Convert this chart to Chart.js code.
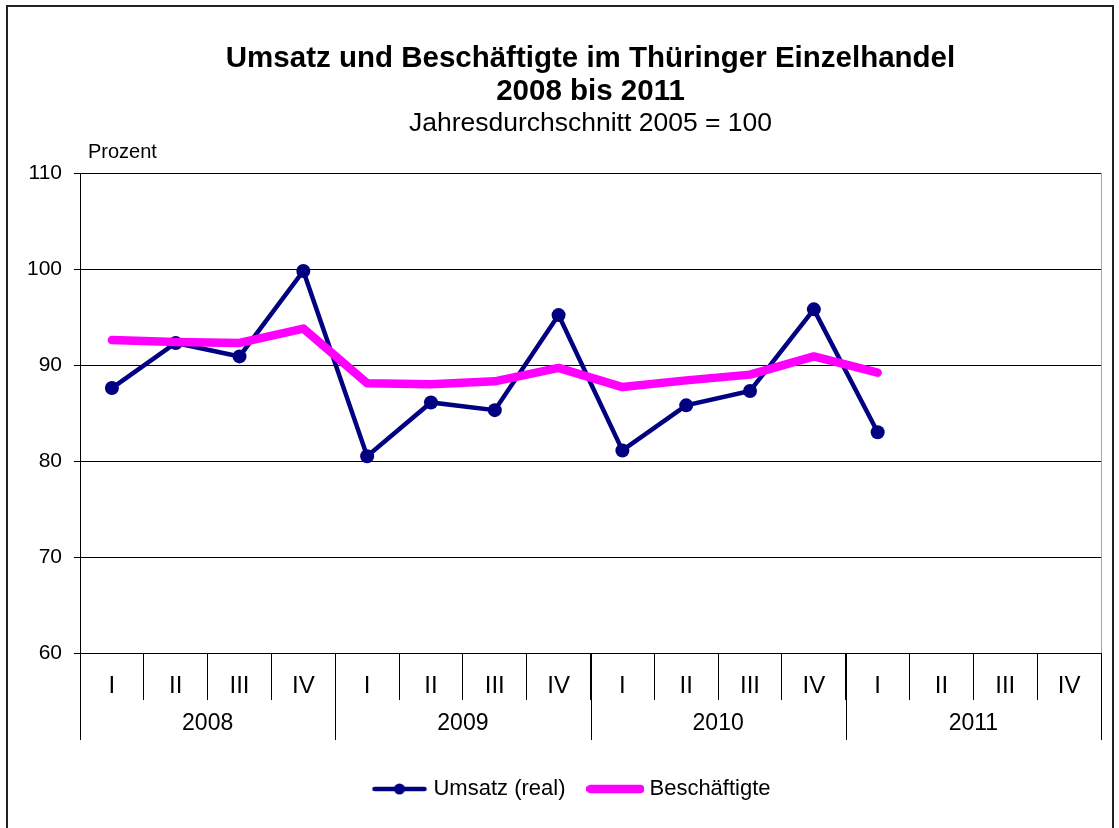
<!DOCTYPE html>
<html>
<head>
<meta charset="utf-8">
<script src="https://cdn.jsdelivr.net/npm/chart.js@4.4.0/dist/chart.umd.min.js"></script>
<style>
  html, body { margin: 0; padding: 0; background: #fff; overflow: hidden; }
  #frame { position: absolute; left: 6px; top: 5px; width: 1108px; height: 840px; border: 2px solid #222; box-sizing: border-box; }
  #wrap { position: absolute; left: 0; top: 0; width: 1119px; height: 828px; }
</style>
</head>
<body>
<div id="frame"></div>
<div id="wrap"><canvas id="chart" width="1119" height="828"></canvas></div>
<script>
// chart data (quarters 2008 - 2011, index 2005 = 100)
const years = ['2008', '2009', '2010', '2011'];
const quarters = ['I', 'II', 'III', 'IV'];
const umsatz = [87.6, 92.3, 90.9, 99.8, 80.5, 86.1, 85.3, 95.2, 81.1, 85.8, 87.3, 95.8, 83.0, null, null, null];
const beschaeftigte = [92.6, 92.4, 92.3, 93.8, 88.1, 88.0, 88.3, 89.7, 87.7, 88.4, 89.0, 90.9, 89.2, null, null, null];
const yMin = 60;
const yMax = 110;
const yStep = 10;

const FONT = 'Arial, "Liberation Sans", sans-serif';
const labels = years.flatMap(y => quarters.map(q => q + ' ' + y));

// small canvas used as legend symbol
function legendSymbol(color, width, dot) {
  const c = document.createElement('canvas');
  c.width = 58; c.height = 16;
  const g = c.getContext('2d');
  g.strokeStyle = color; g.lineWidth = width; g.lineCap = 'round';
  g.beginPath(); g.moveTo(4, 8); g.lineTo(54, 8); g.stroke();
  if (dot) {
    g.fillStyle = color;
    g.beginPath(); g.arc(29, 8, 5.5, 0, Math.PI * 2); g.fill();
  }
  return c;
}

// "Prozent", year row, separators and right plot border
const extras = {
  id: 'extras',
  afterLayout(chart) {
    // legend sits a bit right of the page centre in the original
    chart.legend.left += 46;
  },
  afterDraw(chart) {
    const { ctx, chartArea: a, scales: { x } } = chart;
    ctx.save();
    ctx.strokeStyle = '#a6a6a6';
    ctx.lineWidth = 1;
    ctx.beginPath();
    ctx.moveTo(Math.round(a.right) + 0.5, a.top);
    ctx.lineTo(Math.round(a.right) + 0.5, a.bottom);
    ctx.stroke();

    ctx.strokeStyle = '#000';
    for (let i = 0; i <= years.length; i++) {
      const px = Math.round(x.getPixelForValue(i * 4 - 0.5)) + 0.5;
      ctx.beginPath();
      ctx.moveTo(px, a.bottom);
      ctx.lineTo(px, a.bottom + 87);
      ctx.stroke();
    }

    ctx.fillStyle = '#000';
    ctx.font = '23px ' + FONT;
    ctx.textAlign = 'center';
    ctx.textBaseline = 'middle';
    years.forEach((yr, i) => {
      ctx.fillText(yr, x.getPixelForValue(i * 4 + 1.5), a.bottom + 71);
    });

    ctx.font = '20px ' + FONT;
    ctx.textAlign = 'left';
    ctx.fillText('Prozent', a.left + 8, a.top - 21);
    ctx.restore();
  }
};

new Chart(document.getElementById('chart'), {
  type: 'line',
  data: {
    labels: labels,
    datasets: [{
      label: 'Umsatz (real)',
      data: umsatz,
      borderColor: '#000080',
      backgroundColor: '#000080',
      borderWidth: 4.5,
      pointRadius: 7,
      pointHoverRadius: 7,
      pointBorderWidth: 0,
      tension: 0,
      order: 2
    }, {
      label: 'Beschäftigte',
      data: beschaeftigte,
      borderColor: '#ff00ff',
      backgroundColor: '#ff00ff',
      borderWidth: 8.5,
      pointRadius: 0,
      pointHoverRadius: 0,
      borderJoinStyle: 'round',
      borderCapStyle: 'round',
      tension: 0,
      order: 1
    }]
  },
  options: {
    responsive: false,
    animation: false,
    layout: { padding: { left: 0, right: 18, top: 0, bottom: 18 } },
    plugins: {
      title: {
        display: true,
        fullSize: false,
        text: ['Umsatz und Beschäftigte im Thüringer Einzelhandel', '2008 bis 2011'],
        color: '#000',
        font: { family: FONT, size: 29.5, weight: 'bold', lineHeight: 1.12 },
        padding: { top: 42.5, bottom: 0 }
      },
      subtitle: {
        display: true,
        fullSize: false,
        text: 'Jahresdurchschnitt 2005 = 100',
        color: '#000',
        font: { family: FONT, size: 26.5, lineHeight: 1.1 },
        padding: { top: 1, bottom: 34.3 }
      },
      legend: {
        position: 'bottom',
        labels: {
          color: '#000',
          font: { family: FONT, size: 22 },
          usePointStyle: true,
          pointStyleWidth: 46,
          padding: 27,
          generateLabels(chart) {
            return chart.data.datasets.map((ds, i) => ({
              text: ds.label,
              datasetIndex: i,
              fontColor: '#000',
              pointStyle: legendSymbol(ds.borderColor, i === 0 ? 4.5 : 8.5, i === 0),
              lineWidth: 0,
              strokeStyle: 'transparent',
              fillStyle: 'transparent'
            }));
          }
        }
      },
      tooltip: { enabled: false }
    },
    scales: {
      x: {
        offset: true,
        grid: { offset: true, drawOnChartArea: false, tickLength: 47, color: '#000', lineWidth: 1 },
        border: { color: '#000' },
        ticks: {
          color: '#000',
          font: { family: FONT, size: 24 },
          padding: -28,
          autoSkip: false,
          maxRotation: 0,
          callback: (v, i) => quarters[i % 4]
        },
        afterFit: s => { s.height = 98; }
      },
      y: {
        min: yMin,
        max: yMax,
        grid: { color: '#000', lineWidth: 1, tickLength: 6 },
        border: { color: '#000' },
        ticks: { stepSize: yStep, color: '#000', font: { family: FONT, size: 21 }, padding: 12 },
        afterFit: s => { s.width = 80; }
      }
    }
  },
  plugins: [extras]
});
</script>
</body>
</html>
